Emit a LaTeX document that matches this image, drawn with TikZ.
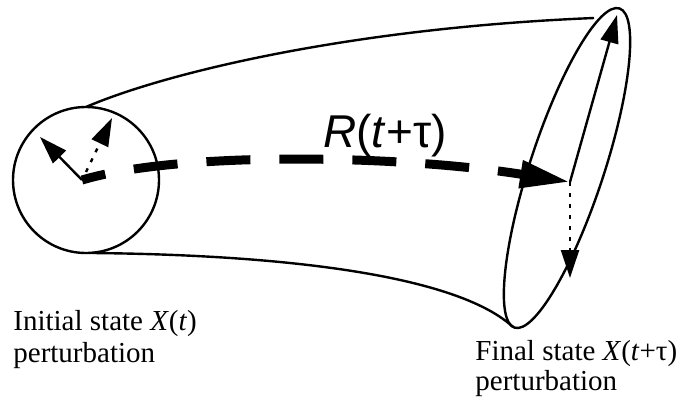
\documentclass[tikz,border=0pt]{standalone}
\usepackage{fontspec}
\setmainfont{Liberation Serif}
\newfontfamily\labelfont{Liberation Sans}
\usetikzlibrary{arrows.meta}

\tikzset{
  outline/.style={line width=1.2pt},
  vec/.style={line width=1.2pt,-{Triangle[length=14pt,width=9pt]}},
  dotvec/.style={line width=1.2pt,dash pattern=on 2pt off 3.5pt,-{Triangle[length=14pt,width=9pt]}},
  bigdash/.style={line width=4.5pt,dash pattern=on 22pt off 14.5pt,dash phase=10pt,-{Triangle[length=25pt,width=13pt]}},
  caption/.style={font=\fontsize{14.5}{17}\selectfont,inner sep=0pt,anchor=base west}
}

\begin{document}
\begin{tikzpicture}[x=0.5pt,y=0.5pt]
  \useasboundingbox (0,0) rectangle (700,413);
  % initial perturbation sphere
  \coordinate (c) at (86,233);
  \draw[outline] (c) circle (73);
  % final perturbation ellipse
  \coordinate (e) at (567,245);
  \draw[outline,rotate around={71.8:(e)}] (e) ellipse [x radius=168, y radius=37];
  % tube between them
  \coordinate (up0) at (86,306);
  \coordinate (up1) at (594,395);
  \coordinate (lo0) at (92,160);
  \coordinate (lo1) at (513,86);
  \draw[outline] (up0) .. controls (165,340) and (350,385) .. (up1);
  \draw[outline] (lo0) .. controls (300,158) and (460,135) .. (lo1);
  % vectors
  \coordinate (o) at (82,233);
  \coordinate (a1) at (40,276);
  \coordinate (a2) at (112,295);
  \coordinate (f) at (570,231);
  \coordinate (b1) at (617,398);
  \coordinate (b2) at (570,135);
  \draw[vec] (o) -- (a1);
  \draw[dotvec] ([shift={(4,8)}]o) -- (a2);
  \draw[bigdash] (o) .. controls (180,262) and (400,258) .. (f);
  \draw[vec] (f) -- (b1);
  \draw[dotvec] (f) -- (b2);
  % labels
  \node (R) at (323,266) [anchor=base west,inner sep=0pt]
    {\labelfont\fontsize{23}{26}\selectfont\textit{R}(\textit{t}+τ)};
  \node (init1) at (13,83) [caption] {Initial state \textit{X}(\textit{t})};
  \node (init2) at (13,51) [caption] {perturbation};
  \node (fin1) at (475,53) [caption] {Final state \textit{X}(\textit{t}+τ)};
  \node (fin2) at (475,23) [caption] {perturbation};
\end{tikzpicture}
\end{document}
